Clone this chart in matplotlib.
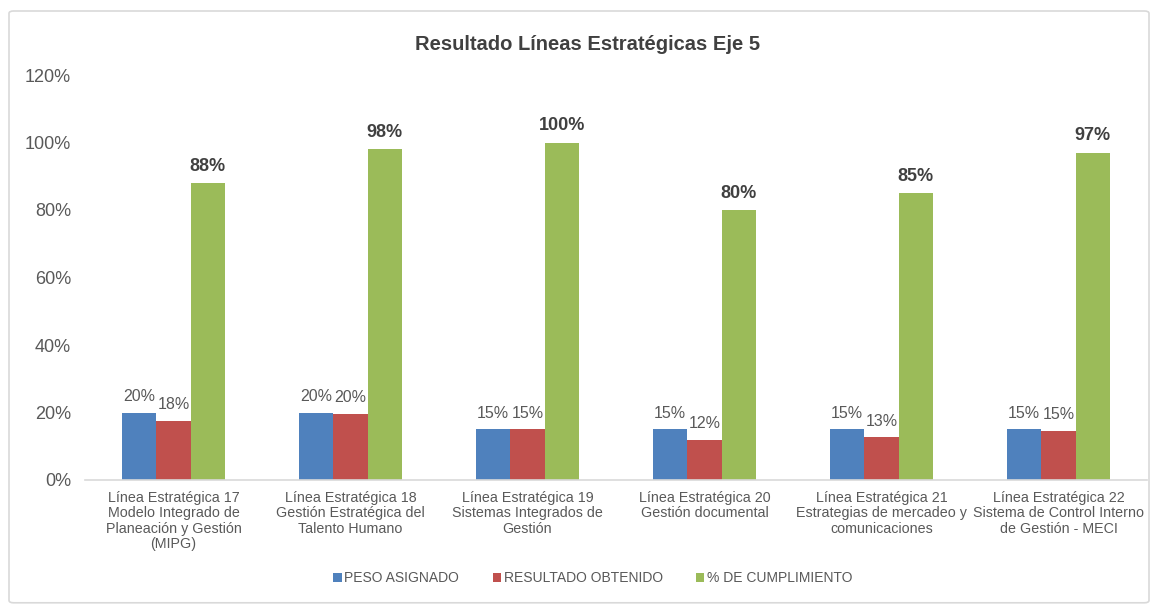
import numpy as np
import matplotlib.pyplot as plt
from matplotlib.patches import FancyBboxPatch

plt.rcParams['font.family'] = ['Liberation Sans', 'DejaVu Sans']

categorias = [
    "Línea Estratégica 17\nModelo Integrado de\nPlaneación y Gestión\n(MIPG)",
    "Línea Estratégica 18\nGestión Estratégica del\nTalento Humano",
    "Línea Estratégica 19\nSistemas Integrados de\nGestión",
    "Línea Estratégica 20\nGestión documental",
    "Línea Estratégica 21\nEstrategias de mercadeo y\ncomunicaciones",
    "Línea Estratégica 22\nSistema de Control Interno\nde Gestión - MECI",
]
peso_asignado = [20, 20, 15, 15, 15, 15]
resultado_obtenido = [17.6, 19.7, 15, 12, 12.6, 14.6]
cumplimiento = [88, 98, 100, 80, 85, 97]

peso_labels = ["20%", "20%", "15%", "15%", "15%", "15%"]
resultado_labels = ["18%", "20%", "15%", "12%", "13%", "15%"]
cumpl_labels = ["88%", "98%", "100%", "80%", "85%", "97%"]

azul = '#4F81BD'
rojo = '#C0504D'
verde = '#9BBB59'
gris_texto = '#595959'

fig = plt.figure(figsize=(11.58, 6.04), dpi=100)
# chart border
borde = FancyBboxPatch((9 / 1158, 0.002), 1140 / 1158, 1 - 11 / 604 - 0.002,
                       boxstyle='round,pad=0,rounding_size=0.004',
                       transform=fig.transFigure, facecolor='none',
                       edgecolor='#d9d9d9', linewidth=1.2, zorder=-1)
fig.patches.append(borde)

ax = fig.add_axes([85 / 1158, 1 - 480 / 604, 1062 / 1158, 405 / 604])
ax.set_facecolor('none')

x = np.arange(len(categorias))
w = 0.194

b1 = ax.bar(x - w, peso_asignado, w, color=azul, label='PESO ASIGNADO')
b2 = ax.bar(x, resultado_obtenido, w, color=rojo, label='RESULTADO OBTENIDO')
b3 = ax.bar(x + w, cumplimiento, w, color=verde, label='% DE CUMPLIMIENTO')

ax.bar_label(b1, labels=peso_labels, padding=6, fontsize=11.5, color=gris_texto)
ax.bar_label(b2, labels=resultado_labels, padding=6, fontsize=11.5, color=gris_texto)
ax.bar_label(b3, labels=cumpl_labels, padding=6, fontsize=13, color='#404040',
             fontweight='bold')

ax.set_xlim(-0.5, len(categorias) - 0.5)
ax.set_ylim(0, 120)
ax.set_yticks(np.arange(0, 121, 20))
ax.set_yticklabels([f"{v}%" for v in range(0, 121, 20)])
ax.set_xticks(x)
ax.set_xticklabels(categorias, fontsize=10.3, color=gris_texto, linespacing=1.12)

ax.tick_params(axis='y', length=0, pad=10, labelsize=13, labelcolor=gris_texto)
ax.tick_params(axis='x', length=0, pad=8)
for s in ['top', 'right', 'left']:
    ax.spines[s].set_visible(False)
ax.spines['bottom'].set_color('#d9d9d9')
ax.spines['bottom'].set_linewidth(1.2)

fig.text(588 / 1158, 1 - 45 / 604, 'Resultado Líneas Estratégicas Eje 5',
         ha='center', va='center', fontsize=14.5, fontweight='bold', color='#404040')

fig.legend(loc='center', bbox_to_anchor=(593 / 1158, 1 - 578 / 604), ncol=3,
           frameon=False, fontsize=10, labelcolor=gris_texto,
           handlelength=0.6, handleheight=0.6, handletextpad=0.2, columnspacing=2.4)

fig.savefig('out.png', dpi=100)
